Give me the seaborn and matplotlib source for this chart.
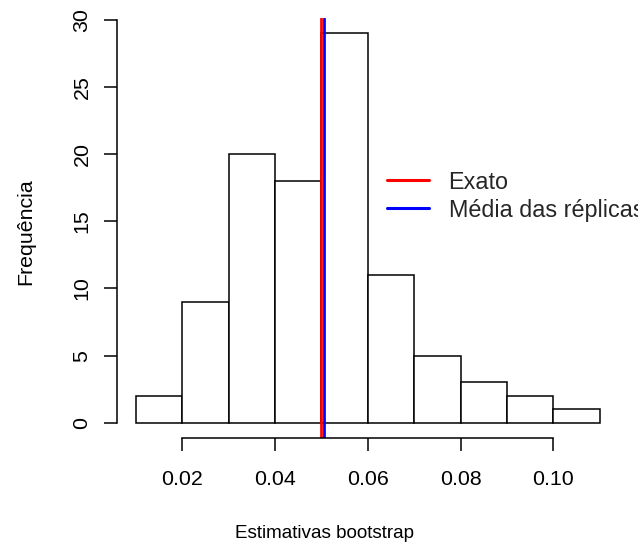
import matplotlib
matplotlib.use("Agg")
import matplotlib.pyplot as plt
import seaborn as sns
import numpy as np

# Data
bin_edges = [0.01, 0.02, 0.03, 0.04, 0.05, 0.06, 0.07, 0.08, 0.09, 0.10, 0.11]
counts = [2, 9, 20, 18, 29, 11, 5, 3, 2, 1]
exact_value = 0.0500
mean_replicas = 0.0505
x_ticks = [0.02, 0.04, 0.06, 0.08, 0.10]
x_tick_labels = ["0.02", "0.04", "0.06", "0.08", "0.10"]
y_ticks = [0, 5, 10, 15, 20, 25, 30]
legend_labels = ["Exato", "Média das réplicas"]
x_label = "Estimativas bootstrap"
y_label = "Frequência"

sns.set_style("ticks")
plt.rcParams["font.family"] = ["Liberation Sans", "DejaVu Sans"]
FS_TICK = 15.4
FS_XLAB = 13.6
FS_YLAB = 15.4
FS_LEG = 16.8

fig = plt.figure(figsize=(6.38, 5.5), dpi=100)
ax = fig.add_axes([0.1840, 0.2031, 0.7850, 0.7644])

centers = [(a + b) / 2 for a, b in zip(bin_edges[:-1], bin_edges[1:])]
sns.histplot(x=centers, weights=counts, bins=bin_edges, ax=ax,
             color="white", edgecolor="black", linewidth=1.1, alpha=1)

l1 = ax.axvline(exact_value, color="#FF0000", lw=1.95)
l2 = ax.axvline(mean_replicas, color="#0000FF", lw=1.95)

ax.set_xlim(0.006, 0.114)
ax.set_ylim(-1.16, 30.16)
ax.set_xticks(x_ticks)
ax.set_xticklabels(x_tick_labels)
ax.set_yticks(y_ticks)
ax.set_yticklabels([str(v) for v in y_ticks])

for s in ["top", "right"]:
    ax.spines[s].set_visible(False)
ax.spines["bottom"].set_bounds(0.02, 0.10)
ax.spines["left"].set_bounds(0, 30)
for s in ["bottom", "left"]:
    ax.spines[s].set_linewidth(1.1)
    ax.spines[s].set_color("black")

ax.tick_params(axis="both", length=9.6, width=1.1, color="black",
               labelsize=FS_TICK, labelcolor="black")
ax.tick_params(axis="x", pad=13.5)
ax.tick_params(axis="y", pad=9.0)
plt.setp(ax.get_yticklabels(), rotation=90, va="center")

ax.set_xlabel(x_label, fontsize=FS_XLAB, color="black")
ax.set_ylabel(y_label, fontsize=FS_YLAB, color="black")
ax.xaxis.label.set_va("center")
ax.yaxis.label.set_va("center")
ax.xaxis.set_label_coords(0.4135, -0.2253)
ax.yaxis.set_label_coords(-0.1825, 0.4907)

leg = ax.legend([l1, l2], legend_labels, loc="upper left",
                bbox_to_anchor=(386.7 / 638, 1 - 170.5 / 550),
                bbox_transform=fig.transFigure, frameon=False,
                fontsize=FS_LEG, handlelength=1.83, handletextpad=0.82,
                labelspacing=0.22, borderpad=0, borderaxespad=0)
for h in leg.legend_handles:
    h.set_linewidth(2.2)

fig.savefig("out.png", dpi=100)
